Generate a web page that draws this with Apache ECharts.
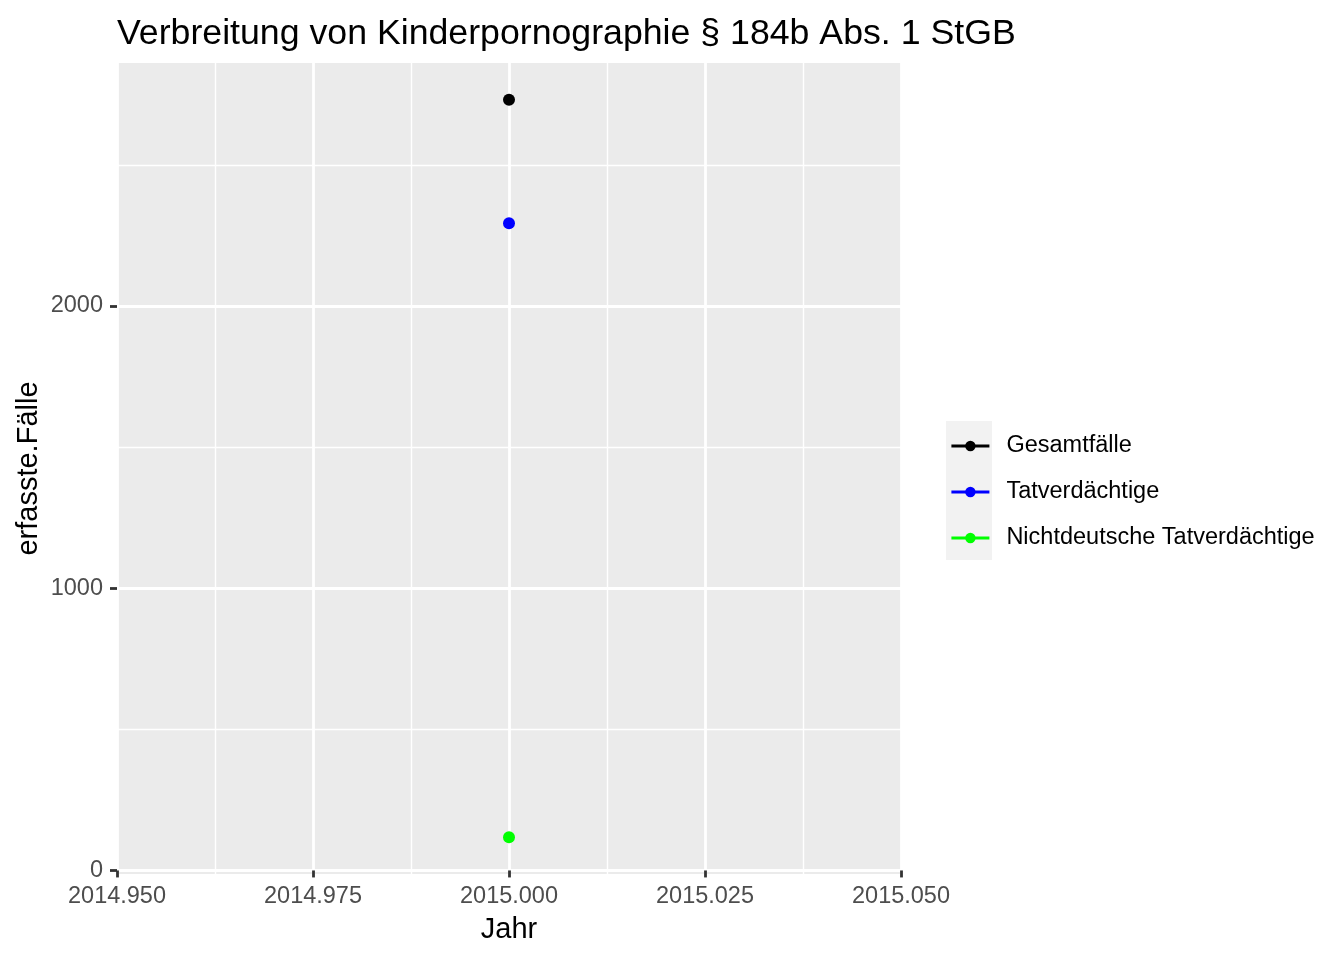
<!DOCTYPE html>
<html>
<head>
<meta charset="utf-8">
<script src="https://cdn.jsdelivr.net/npm/echarts@6/dist/echarts.min.js"></script>
<style>html,body{margin:0;padding:0;background:#fff}#c{width:1344px;height:960px}</style>
</head>
<body>
<div id="c"></div>
<script>
const years = [2015];
const seriesNames = ['Gesamtfälle', 'Tatverdächtige', 'Nichtdeutsche Tatverdächtige'];
const gesamt = [2730];
const tatverdaechtige = [2293];
const nichtdeutsche = [118];
const seriesColors = ['#000000', '#0000FF', '#00FF00'];
const yTicks = [0, 1000, 2000];
const yMinorTicks = [500, 1500, 2500];

const FONT = 'Liberation Sans, Arial, Helvetica, sans-serif';
const chart = echarts.init(document.getElementById('c'), null, {renderer: 'canvas'});

const allVals = gesamt.concat(tatverdaechtige, nichtdeutsche);
const vMin = Math.min(...allVals), vMax = Math.max(...allVals);
const pad = (vMax - vMin) * 0.05;

function mk(name, vals, color) {
  return {
    name: name, type: 'line',
    data: years.map((y, i) => [y, vals[i]]),
    symbol: 'circle', symbolSize: 12,
    itemStyle: {color: color},
    lineStyle: {color: color, width: 2.8},
    emphasis: {disabled: true},
    z: 5
  };
}

chart.setOption({
  animation: false,
  backgroundColor: '#ffffff',
  title: {
    text: 'Verbreitung von Kinderpornographie § 184b Abs. 1 StGB',
    left: 112, top: 11,
    textStyle: {fontFamily: FONT, fontSize: 35.7, fontWeight: 'normal', color: '#000'}
  },
  grid: {left: 117, top: 63, width: 784, height: 811, backgroundColor: '#EBEBEB', show: true, borderWidth: 0,
    containLabel: false, outerBoundsMode: 'none'},
  xAxis: {
    type: 'value', min: 2014.95, max: 2015.05, interval: 0.025,
    name: 'Jahr', nameLocation: 'middle', nameGap: 41, nameMoveOverlap: false,
    nameTextStyle: {fontFamily: FONT, fontSize: 29, color: '#000'},
    axisLine: {show: false},
    axisTick: {show: true, length: 7, lineStyle: {color: '#333333', width: 2.8}},
    axisLabel: {fontFamily: FONT, fontSize: 23.5, color: '#4D4D4D', margin: 11,
      formatter: v => v.toFixed(3)},
    splitLine: {show: true, lineStyle: {color: '#FFFFFF', width: 2.8}},
    minorTick: {show: false, splitNumber: 2},
    minorSplitLine: {show: true, lineStyle: {color: '#FFFFFF', width: 1.4}}
  },
  yAxis: [{
    type: 'value', min: vMin - pad, max: vMax + pad,
    name: 'erfasste.Fälle', nameLocation: 'middle', nameGap: 74, nameMoveOverlap: false,
    nameTextStyle: {fontFamily: FONT, fontSize: 29, color: '#000'},
    axisLine: {show: false},
    axisTick: {show: true, length: 7, lineStyle: {color: '#333333', width: 2.8}, customValues: yTicks},
    axisLabel: {fontFamily: FONT, fontSize: 23.5, color: '#4D4D4D', margin: 14, customValues: yTicks,
      formatter: v => String(Math.round(v))},
    splitLine: {show: true, lineStyle: {color: '#FFFFFF', width: 2.8}}
  }, {
    type: 'value', min: vMin - pad, max: vMax + pad, position: 'left',
    axisLine: {show: false},
    axisTick: {show: false, customValues: yMinorTicks},
    axisLabel: {show: false, customValues: yMinorTicks},
    splitLine: {show: true, lineStyle: {color: '#FFFFFF', width: 1.4}}
  }],
  legend: {
    orient: 'vertical', left: 950, top: 423, padding: 0,
    itemWidth: 38, itemHeight: 13, itemGap: 0,
    data: seriesNames,
    lineStyle: {width: 2.8},
    textStyle: {fontFamily: FONT, fontSize: 23.5, color: '#000', lineHeight: 46, padding: [0, 0, 0, 12]},
    selectedMode: false
  },
  graphic: [{
    type: 'rect', left: 946, top: 421, z: -1,
    shape: {width: 46, height: 139},
    style: {fill: '#F2F2F2'}
  }],
  series: [
    mk(seriesNames[0], gesamt, seriesColors[0]),
    mk(seriesNames[1], tatverdaechtige, seriesColors[1]),
    mk(seriesNames[2], nichtdeutsche, seriesColors[2])
  ]
});
</script>
</body>
</html>
